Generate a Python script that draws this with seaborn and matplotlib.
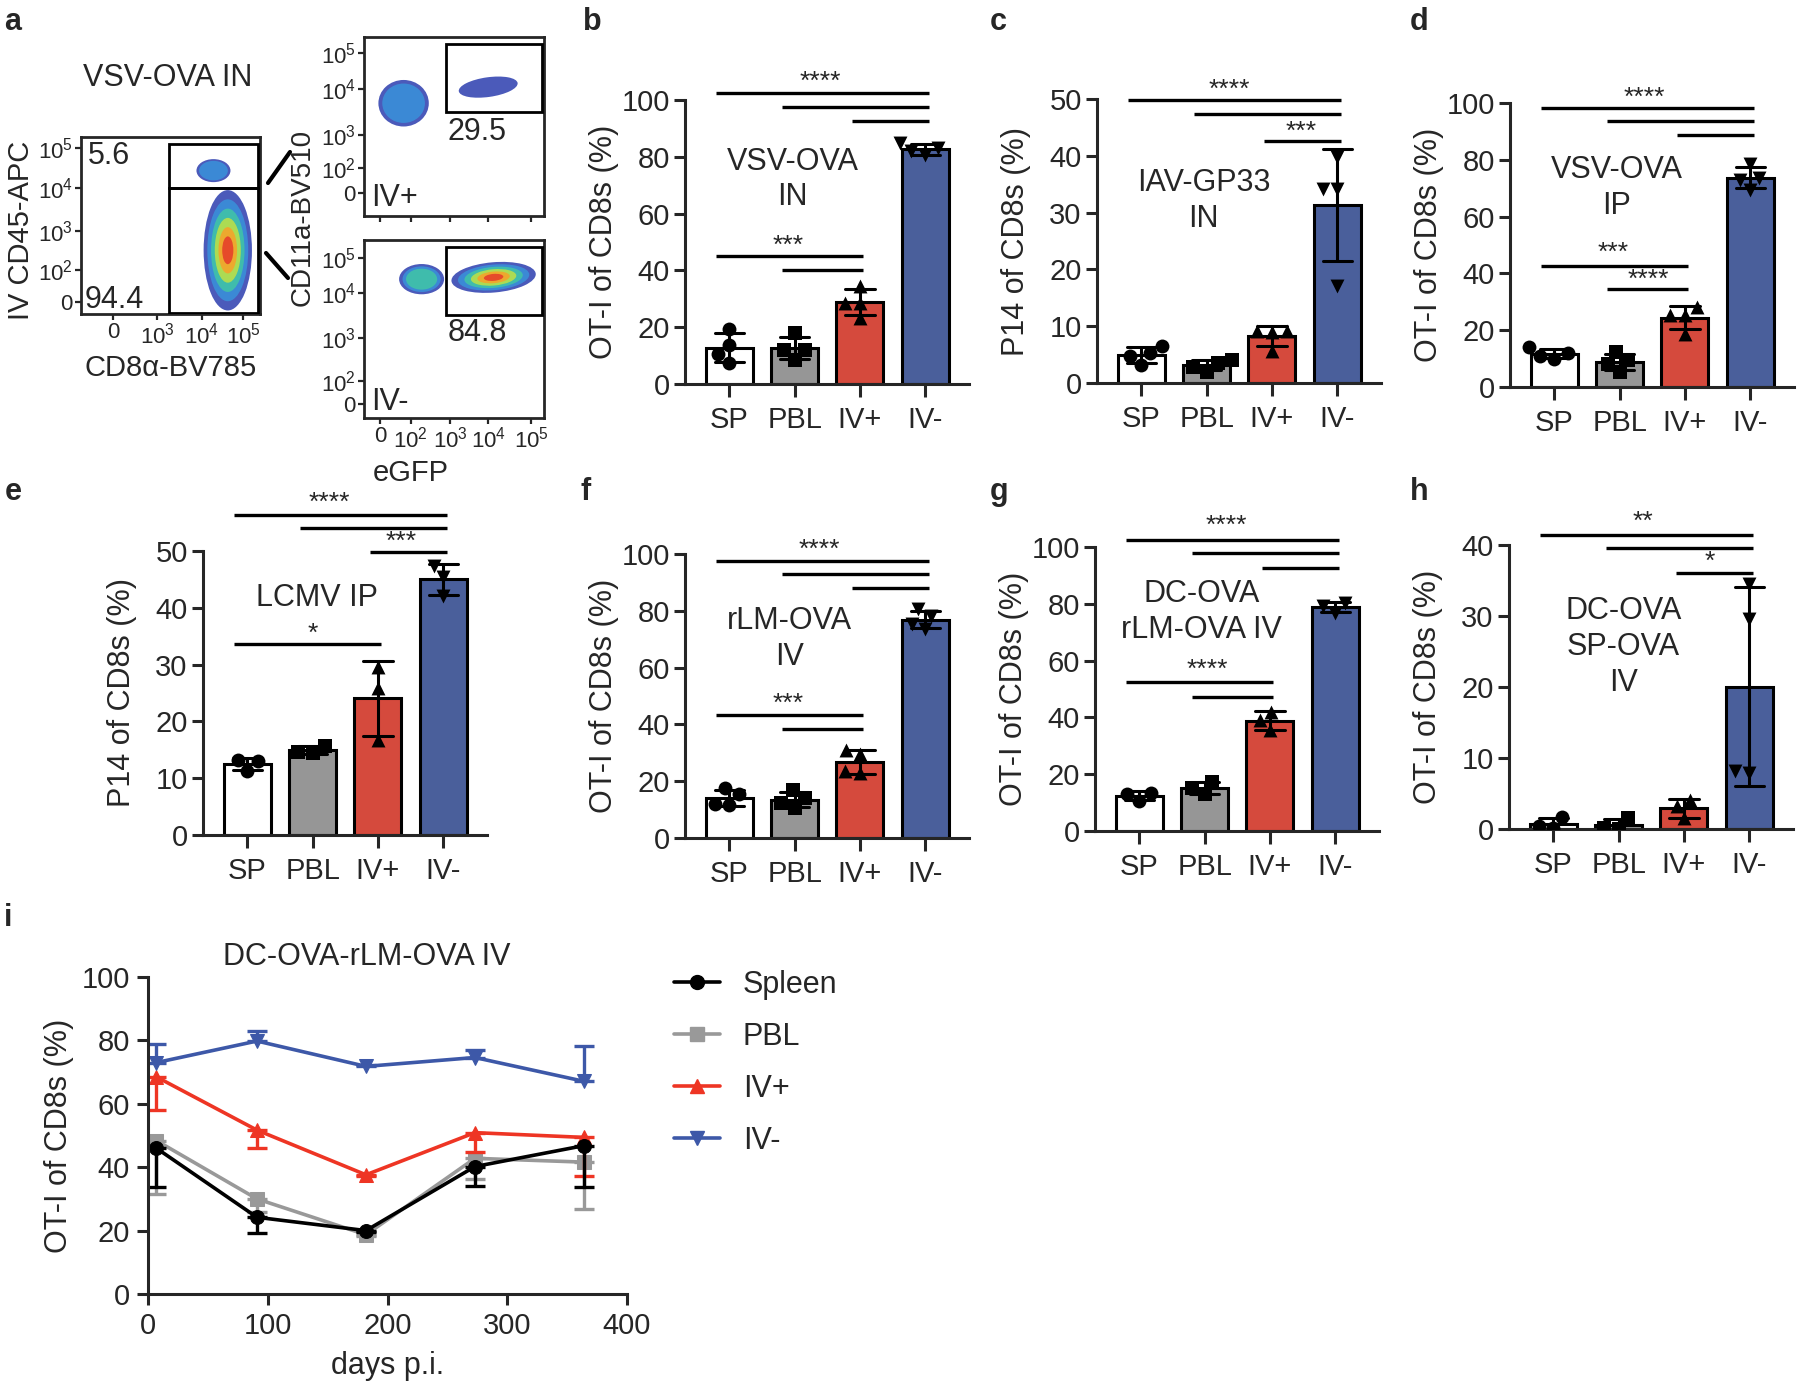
import matplotlib
matplotlib.use("Agg")
import matplotlib.pyplot as plt
from matplotlib.lines import Line2D
from matplotlib.patches import Ellipse, Rectangle
import numpy as np
import pandas as pd
import seaborn as sns

W, H = 1800, 1389

groups = ["SP", "PBL", "IV+", "IV-"]
bar_colors = ["white", "#969696", "#EE3524", "#3D58A8"]
point_markers = ["o", "s", "^", "v"]

# individual mice per group
b_vals = {"SP": [19.2, 13.9, 10.4, 7.4], "PBL": [18.0, 12.1, 12.1, 8.6],
          "IV+": [34.5, 28.6, 28.6, 23.3], "IV-": [85.0, 83.0, 82.0, 80.5]}
c_vals = {"SP": [6.5, 5.2, 4.8, 3.2], "PBL": [4.0, 3.6, 2.8, 2.0],
          "IV+": [9.2, 9.1, 9.0, 5.6], "IV-": [39.8, 34.2, 34.2, 17.1]}
d_vals = {"SP": [14.0, 12.0, 11.0, 10.0], "PBL": [12.4, 9.4, 8.2, 5.3],
          "IV+": [28.2, 25.3, 25.3, 18.8], "IV-": [78.5, 73.5, 73.0, 69.5]}
e_vals = {"SP": [13.2, 13.0, 11.3], "PBL": [15.7, 14.7, 14.4],
          "IV+": [29.6, 25.8, 16.7], "IV-": [47.4, 45.5, 42.1]}
f_vals = {"SP": [17.5, 15.5, 12.0, 11.7], "PBL": [16.8, 14.0, 12.5, 10.5],
          "IV+": [31.0, 29.5, 23.5, 22.9], "IV-": [80.5, 78.0, 75.5, 73.5]}
g_vals = {"SP": [13.5, 13.2, 10.6], "PBL": [17.2, 15.3, 13.0],
          "IV+": [42.0, 39.0, 35.5], "IV-": [80.4, 79.2, 76.8]}
h_vals = {"SP": [1.7, 0.4, 0.1], "PBL": [1.5, 0.1, 0.0],
          "IV+": [4.1, 3.2, 1.5], "IV-": [34.5, 29.6, 8.1, 7.9]}

# significance bars: (left group, right group, height) and star labels
b_sig = [(0, 3, 102.5), (1, 3, 97.5), (2, 3, 92.6), (0, 2, 45.0), (1, 2, 40.0)]
b_stars = [("****", 1.39, 106.5), ("***", 0.9, 48.6)]
c_sig = [(0, 3, 49.9), (1, 3, 47.4), (2, 3, 42.6)]
c_stars = [("****", 1.35, 51.6), ("***", 2.45, 44.2)]
d_sig = [(0, 3, 98.2), (1, 3, 93.5), (2, 3, 88.6), (0, 2, 42.7), (1, 2, 34.4)]
d_stars = [("****", 1.38, 101.8), ("***", 0.9, 47.1), ("****", 1.44, 37.7)]
e_sig = [(0, 3, 56.3), (1, 3, 54.0), (2, 3, 49.8), (0, 2, 33.6)]
e_stars = [("****", 1.26, 58.5), ("***", 2.36, 51.6), ("*", 1.0, 35.4)]
f_sig = [(0, 3, 97.7), (1, 3, 93.0), (2, 3, 87.9), (0, 2, 43.4), (1, 2, 38.5)]
f_stars = [("****", 1.37, 101.4), ("***", 0.9, 47.4)]
g_sig = [(0, 3, 102.4), (1, 3, 98.0), (2, 3, 92.7), (0, 2, 52.4), (1, 2, 47.1)]
g_stars = [("****", 1.33, 107.4), ("****", 1.04, 56.9)]
h_sig = [(0, 3, 41.4), (1, 3, 39.6), (2, 3, 36.1)]
h_stars = [("**", 1.37, 43.2), ("*", 2.4, 37.6)]

# time course (panel i)
days = [7, 91, 182, 273, 364]
spleen = [46.0, 24.2, 20.0, 40.2, 46.8]
spleen_err = [12.3, 5.0, 0.5, 6.0, 13.0]
pbl = [48.4, 30.0, 18.7, 42.8, 41.6]
pbl_err = [17.0, 4.0, 0.5, 6.6, 14.8]
ivp = [68.5, 51.7, 37.6, 50.9, 49.4]
ivp_err = [10.3, 5.8, 0.5, 6.0, 12.1]
ivm = [73.0, 79.8, 71.8, 74.6, 67.1]
ivm_err = [5.8, 3.2, 0.5, 2.3, 11.1]

# flow plots: populations as (cx, cy, width, height, angle, density levels)
main_pops = [(0.74, 0.81, 0.19, 0.13, 0, 2), (0.82, 0.36, 0.27, 0.68, 0, 6)]
main_gates = [(0.49, 0.71, 0.99, 0.96), (0.49, 0.005, 0.99, 0.71)]
ivp_pops = [(0.22, 0.63, 0.28, 0.26, 0, 2), (0.69, 0.72, 0.33, 0.11, 8, 1)]
ivm_pops = [(0.32, 0.78, 0.25, 0.17, 0, 3), (0.72, 0.79, 0.47, 0.17, 5, 6)]
right_gate = (0.455, 0.58, 0.99, 0.96)
density_colors = ["#2b3dae", "#3a8fd9", "#40c2a8", "#b9df4a", "#f4a42a", "#e6402a"]

sns.set_style("ticks")
plt.rcParams["font.family"] = ["Liberation Sans", "DejaVu Sans"]
plt.rcParams["mathtext.fontset"] = "custom"
plt.rcParams["mathtext.rm"] = "Liberation Sans"
plt.rcParams["mathtext.it"] = "Liberation Sans:italic"
plt.rcParams["axes.linewidth"] = 2.2

fig = plt.figure(figsize=(18, 13.89), dpi=100)


def px_axes(left, top, width, height):
    return fig.add_axes([left / W, 1 - (top + height) / H, width / W, height / H])


def bar_panel(spine_x, y0, vals, ylabel, ymax, ystep, note, note_x, note_y, sig, stars):
    ax = px_axes(spine_x, y0 - 284, 284, 284)
    df = pd.DataFrame([(g, v) for g in groups for v in vals[g]], columns=["group", "value"])
    sns.barplot(data=df, x="group", y="value", hue="group", order=groups, hue_order=groups,
                palette=bar_colors, legend=False, errorbar="sd", capsize=0.45,
                err_kws={"color": "k", "linewidth": 2.2}, edgecolor="k", linewidth=2.2,
                width=0.72, ax=ax)
    for g, m in zip(groups, point_markers):
        sns.swarmplot(data=df[df.group == g], x="group", y="value", order=groups,
                      marker=m, color="k", size=10, ax=ax)
    for coll in ax.collections:
        coll.set_zorder(4)
    ax.set_xlim(-0.68, 3.67)
    ax.set_ylim(0, ymax)
    ax.set_yticks(np.arange(0, ymax + 1, ystep))
    sns.despine(ax=ax)
    ax.tick_params(axis="y", labelsize=21, length=8, width=2.2, pad=3)
    ax.tick_params(axis="x", labelsize=21, length=9, width=2.2, pad=7)
    ax.set_xlabel("")
    ax.set_ylabel(ylabel, fontsize=22)
    ax.yaxis.set_label_coords(-66 / 284, 0.5)
    ax.text(note_x, note_y, note, ha="center", va="center", fontsize=22, linespacing=1.25)
    for l, r, y in sig:
        start = l - (0.2 if l < 2 else 0.12)
        ax.plot([start, r + 0.05], [y, y], color="k", lw=2.4, clip_on=False,
                solid_capstyle="butt")
    for s, x, y in stars:
        ax.text(x, y, s, ha="center", va="center", fontsize=19, clip_on=False)
    return ax


bar_panel(685, 384, b_vals, "OT-I of CD8s (%)", 100, 20, "VSV-OVA\nIN", 0.97, 72, b_sig, b_stars)
bar_panel(1097, 383, c_vals, "P14 of CD8s (%)", 50, 10, "IAV-GP33\nIN", 0.95, 32, c_sig, c_stars)
bar_panel(1510, 387, d_vals, "OT-I of CD8s (%)", 100, 20, "VSV-OVA\nIP", 0.95, 70, d_sig, d_stars)
bar_panel(203, 835, e_vals, "P14 of CD8s (%)", 50, 10, "LCMV IP", 1.07, 41.7, e_sig, e_stars)
bar_panel(685, 838, f_vals, "OT-I of CD8s (%)", 100, 20, "rLM-OVA\nIV", 0.92, 70, f_sig, f_stars)
bar_panel(1095, 831, g_vals, "OT-I of CD8s (%)", 100, 20, "DC-OVA\nrLM-OVA IV", 0.95, 77, g_sig, g_stars)
bar_panel(1509, 829, h_vals, "OT-I of CD8s (%)", 40, 10, "DC-OVA\nSP-OVA\nIV", 1.07, 25.6, h_sig, h_stars)


# ---- panel a: flow plots ----
def flow_axes(left, top, width, height, pops, gates, xt, xtl, yt, ytl):
    ax = px_axes(left, top, width, height)
    ax.set_xlim(0, 1)
    ax.set_ylim(0, 1)
    for cx, cy, w, h, ang, lev in pops:
        for i in range(lev):
            k = 1 - i / 6.5
            ax.add_patch(Ellipse((cx, cy), w * k, h * k, angle=ang, color=density_colors[i],
                                 alpha=0.85 if i == 0 else 0.9, lw=0))
    for x1, y1, x2, y2 in gates:
        ax.add_patch(Rectangle((x1, y1), x2 - x1, y2 - y1, fill=False, ec="k", lw=2, zorder=5))
    ax.set_xticks(xt)
    ax.set_xticklabels(xtl)
    ax.set_yticks(yt)
    ax.set_yticklabels(ytl)
    ax.tick_params(labelsize=16, length=4, width=1.6, pad=2)
    for s in ax.spines.values():
        s.set_linewidth(2)
    return ax


ax_main = flow_axes(81, 137, 179, 177, main_pops, main_gates,
                    [0.18, 0.425, 0.675, 0.905], ["0", "$10^3$", "$10^4$", "$10^5$"],
                    [0.07, 0.25, 0.47, 0.71, 0.94], ["0", "$10^2$", "$10^3$", "$10^4$", "$10^5$"])
ax_main.text(0.04, 0.89, "5.6", fontsize=22, va="center")
ax_main.text(0.02, 0.08, "94.4", fontsize=22, va="center")

egfp_ticks = [0.09, 0.26, 0.48, 0.69, 0.93]
ax_p = flow_axes(364, 37, 180, 179, ivp_pops, [right_gate], egfp_ticks, [""] * 5,
                 [0.13, 0.27, 0.45, 0.71, 0.91], ["0", "$10^2$", "$10^3$", "$10^4$", "$10^5$"])
ax_p.text(0.63, 0.47, "29.5", fontsize=22, ha="center", va="center")
ax_p.text(0.04, 0.1, "IV+", fontsize=22, va="center")

ax_m = flow_axes(364, 240, 180, 178, ivm_pops, [right_gate], egfp_ticks,
                 ["0", "$10^2$", "$10^3$", "$10^4$", "$10^5$"],
                 [0.08, 0.21, 0.45, 0.70, 0.90], ["0", "$10^2$", "$10^3$", "$10^4$", "$10^5$"])
ax_m.text(0.63, 0.48, "84.8", fontsize=22, ha="center", va="center")
ax_m.text(0.04, 0.09, "IV-", fontsize=22, va="center")

fig.text(168 / W, 1 - 78 / H, "VSV-OVA IN", fontsize=22, ha="center", va="center")
fig.text(171 / W, 1 - 368 / H, "CD8\u03b1-BV785", fontsize=21, ha="center", va="center")
fig.text(21 / W, 1 - 230 / H, "IV CD45-APC", fontsize=21, ha="center", va="center", rotation=90)
fig.text(303 / W, 1 - 217 / H, "CD11a-BV510", fontsize=20, ha="center", va="center", rotation=90)
fig.text(411 / W, 1 - 473 / H, "eGFP", fontsize=21, ha="center", va="center")

connectors = [((268, 183), (290, 152)), ((266, 253), (288, 278))]
for (x1, y1), (x2, y2) in connectors:
    fig.add_artist(Line2D([x1 / W, x2 / W], [1 - y1 / H, 1 - y2 / H], color="k", lw=3))

# ---- panel i: time course ----
ax_i = px_axes(148, 977, 479, 317)
series = [("PBL", pbl, pbl_err, "#999999", "s", "lower"),
          ("IV+", ivp, ivp_err, "#EE3524", "^", "lower"),
          ("IV-", ivm, ivm_err, "#3D58A8", "v", "upper"),
          ("Spleen", spleen, spleen_err, "black", "o", "lower")]
for name, vals, err, col, mk, side in series:
    sns.lineplot(x=days, y=vals, color=col, marker=mk, markersize=10, markeredgecolor=col,
                 linewidth=2.6, ax=ax_i)
    yerr = [err, [0] * len(err)] if side == "lower" else [[0] * len(err), err]
    ax_i.errorbar(days, vals, yerr=yerr, fmt="none", ecolor=col, elinewidth=2.4,
                  capsize=7, capthick=2.4)
ax_i.set_xlim(0, 400)
ax_i.set_ylim(0, 100)
ax_i.set_xticks([0, 100, 200, 300, 400])
ax_i.set_yticks([0, 20, 40, 60, 80, 100])
sns.despine(ax=ax_i)
ax_i.tick_params(labelsize=21, length=8, width=2.2, pad=5)
ax_i.set_ylabel("OT-I of CD8s (%)", fontsize=22)
ax_i.yaxis.set_label_coords(-74 / 479, 0.5)
ax_i.set_xlabel("days p.i.", fontsize=22, labelpad=8)
fig.text(367 / W, 1 - 957 / H, "DC-OVA-rLM-OVA IV", fontsize=22, ha="center", va="center")

legend_items = [("Spleen", "black", "o"), ("PBL", "#999999", "s"),
                ("IV+", "#EE3524", "^"), ("IV-", "#3D58A8", "v")]
handles = [Line2D([], [], color=c, marker=m, markersize=10, lw=2.6) for _, c, m in legend_items]
fig.legend(handles, [n for n, _, _ in legend_items], loc="upper left",
           bbox_to_anchor=(674 / W, 1 - 970 / H), frameon=False, fontsize=22,
           handlelength=1.5, handletextpad=0.75, labelspacing=0.72, borderpad=0,
           borderaxespad=0)

# ---- panel letters ----
letters = [("a", 13, 22), ("b", 592, 22), ("c", 998, 22), ("d", 1419, 22),
           ("e", 13, 492), ("f", 586, 492), ("g", 999, 492), ("h", 1419, 492), ("i", 8, 918)]
for s, x, y in letters:
    fig.text(x / W, 1 - y / H, s, fontsize=22, fontweight="bold", ha="center", va="center")

fig.savefig("out.png", dpi=100)
